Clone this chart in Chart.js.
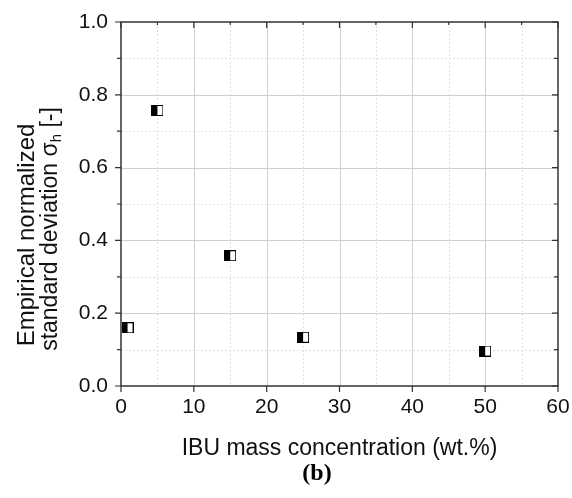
<!DOCTYPE html>
<html>
<head>
<meta charset="utf-8">
<script src="https://cdn.jsdelivr.net/npm/chart.js@4"></script>
<style>
  html, body { margin: 0; padding: 0; background: #fff; }
  #wrap { width: 572px; height: 498px; position: relative; }
</style>
</head>
<body>
<div id="wrap"><canvas id="c"></canvas></div>
<script>
/* data */
const concentration = [0.9, 5, 15, 25, 50];          // wt.%
const sigmaH        = [0.160, 0.757, 0.358, 0.134, 0.096];
const xTickLabels   = ['0', '10', '20', '30', '40', '50', '60'];
const yTickLabels   = ['0.0', '0.2', '0.4', '0.6', '0.8', '1.0'];

const FONT = '"Liberation Sans", Arial, sans-serif';

/* half-filled square marker */
function halfSquare() {
  const cv = document.createElement('canvas');
  cv.width = 12; cv.height = 11;
  const g = cv.getContext('2d');
  g.fillStyle = '#fff'; g.fillRect(0, 0, 12, 11);
  g.fillStyle = '#000'; g.fillRect(0, 0, 6, 11);
  g.strokeStyle = '#000'; g.lineWidth = 1;
  g.strokeRect(0.5, 0.5, 11, 10);
  return cv;
}

const isMajorX = v => Math.round(v) % 10 === 0;
const isMajorY = v => Math.round(v * 10) % 2 === 0;

/* grid, frame, tick marks, y title and panel label */
const framePlugin = {
  id: 'frame',
  beforeDatasetsDraw(chart) {
    const { ctx, chartArea: a, scales: { x, y } } = chart;
    ctx.save();
    ctx.lineWidth = 1;
    x.ticks.forEach(t => {
      if (t.value <= 0 || t.value >= 60) return;
      const px = Math.round(x.getPixelForValue(t.value)) + 0.5;
      ctx.strokeStyle = isMajorX(t.value) ? '#cfcfcf' : '#e0e0e0';
      ctx.setLineDash(isMajorX(t.value) ? [] : [2, 2]);
      ctx.beginPath(); ctx.moveTo(px, a.top); ctx.lineTo(px, a.bottom); ctx.stroke();
    });
    y.ticks.forEach(t => {
      if (t.value <= 0 || t.value >= 1) return;
      const py = Math.round(y.getPixelForValue(t.value)) + 0.5;
      ctx.strokeStyle = isMajorY(t.value) ? '#cfcfcf' : '#e0e0e0';
      ctx.setLineDash(isMajorY(t.value) ? [] : [2, 2]);
      ctx.beginPath(); ctx.moveTo(a.left, py); ctx.lineTo(a.right, py); ctx.stroke();
    });
    ctx.restore();
  },
  afterDraw(chart) {
    const { ctx, chartArea: a, scales: { x, y } } = chart;
    ctx.save();
    ctx.strokeStyle = '#333';
    ctx.lineWidth = 1.5;
    ctx.strokeRect(a.left, a.top, a.right - a.left, a.bottom - a.top);
    ctx.lineWidth = 1.2;
    ctx.beginPath();
    x.ticks.forEach(t => {
      const px = x.getPixelForValue(t.value);
      const len = isMajorX(t.value) ? 6 : 3;
      ctx.moveTo(px, a.top); ctx.lineTo(px, a.top + len);           // top, inward
      if (isMajorX(t.value)) { ctx.moveTo(px, a.bottom); ctx.lineTo(px, a.bottom + 6); }
    });
    y.ticks.forEach(t => {
      const py = y.getPixelForValue(t.value);
      const len = isMajorY(t.value) ? 6 : 4;
      ctx.moveTo(a.left, py); ctx.lineTo(a.left - len, py);         // left, outward
      ctx.moveTo(a.right, py); ctx.lineTo(a.right - len, py);       // right, inward
    });
    ctx.stroke();

    // y axis title, two lines with subscript
    ctx.fillStyle = '#111';
    ctx.textBaseline = 'middle';
    ctx.textAlign = 'center';
    ctx.translate(27, 235);
    ctx.rotate(-Math.PI / 2);
    ctx.font = '24px ' + FONT;
    ctx.fillText('Empirical normalized', 0, 0);
    const main = 'standard deviation \u03c3', sub = 'h', tail = ' [-]';
    ctx.font = '23px ' + FONT;
    const w1 = ctx.measureText(main).width, w3 = ctx.measureText(tail).width;
    ctx.font = '15px ' + FONT;
    const w2 = ctx.measureText(sub).width;
    let sx = 6 - (w1 + w2 + w3) / 2;
    ctx.textAlign = 'left';
    ctx.font = '23px ' + FONT;
    ctx.fillText(main, sx, 24);
    ctx.font = '15px ' + FONT;
    ctx.fillText(sub, sx + w1, 30);
    ctx.font = '23px ' + FONT;
    ctx.fillText(tail, sx + w1 + w2, 24);
    ctx.restore();

    // panel label
    ctx.save();
    ctx.fillStyle = '#000';
    ctx.font = 'bold 24px "Liberation Serif", "Times New Roman", serif';
    ctx.textAlign = 'center';
    ctx.textBaseline = 'middle';
    ctx.fillText('(b)', 317, 474);
    ctx.restore();
  }
};

new Chart(document.getElementById('c'), {
  type: 'scatter',
  data: {
    datasets: [{
      label: 'sigma_h',
      data: concentration.map((c, i) => ({ x: c, y: sigmaH[i] })),
      pointStyle: halfSquare(),
      pointRadius: 6,
      pointHoverRadius: 6
    }]
  },
  options: {
    responsive: true,
    maintainAspectRatio: false,
    animation: false,
    devicePixelRatio: 1,
    layout: { padding: { top: 22, right: 14, left: 0, bottom: 0 } },
    plugins: { legend: { display: false }, tooltip: { enabled: false } },
    scales: {
      x: {
        type: 'linear', min: 0, max: 60,
        afterFit: s => { s.height = 112; s.paddingLeft = 0; s.paddingRight = 0; },
        grid: { display: false, drawTicks: false },
        border: { display: false },
        ticks: {
          stepSize: 5, padding: 9, color: '#111', autoSkip: false, maxRotation: 0,
          font: { family: FONT, size: 21 },
          callback: v => xTickLabels.includes(String(v)) ? String(v) : ''
        },
        title: {
          display: true, text: 'IBU mass concentration (wt.%)', color: '#111',
          font: { family: FONT, size: 23 }, padding: { top: 4, bottom: 36 }
        }
      },
      y: {
        type: 'linear', min: 0, max: 1,
        afterFit: s => { s.width = 121; s.paddingTop = 0; s.paddingBottom = 0; },
        grid: { display: false, drawTicks: false },
        border: { display: false },
        ticks: {
          stepSize: 0.1, padding: 13, color: '#111', autoSkip: false,
          font: { family: FONT, size: 21 },
          callback: v => { const s = Number(v).toFixed(1); return yTickLabels.includes(s) && isMajorY(v) ? s : ''; }
        }
      }
    }
  },
  plugins: [framePlugin]
});
</script>
</body>
</html>
